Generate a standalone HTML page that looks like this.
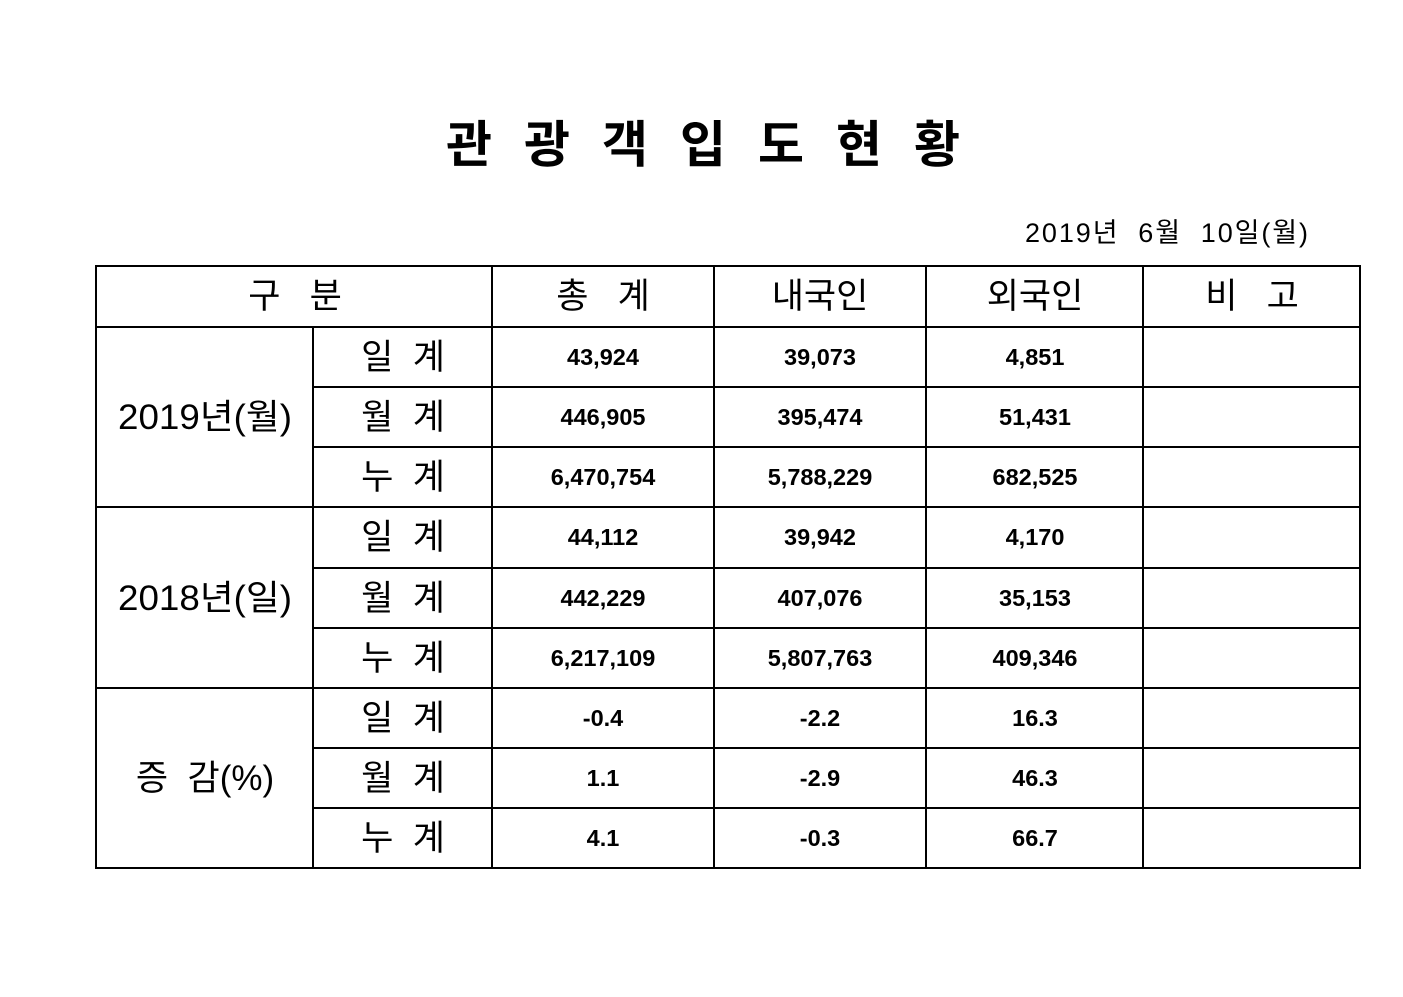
<!DOCTYPE html>
<html><head><meta charset="utf-8"><style>
html,body{margin:0;padding:0;background:#fff;}
svg text{font-family:"Liberation Sans","Noto Sans CJK KR",sans-serif;fill:#000;}
</style></head><body>
<svg width="1403" height="992" xmlns="http://www.w3.org/2000/svg">
<text x="719" y="162" font-size="50" font-weight="bold" text-anchor="middle" letter-spacing="32">관광객입도현황</text>
<text x="1025" y="242" font-size="27" textLength="283" lengthAdjust="spacing" xml:space="preserve">2019년  6월  10일(월)</text>
<g stroke="#000" stroke-width="2" fill="none">
<rect x="96" y="266" width="1264" height="602"/>
<line x1="96" y1="327" x2="1360" y2="327"/>
<line x1="96" y1="507" x2="1360" y2="507"/>
<line x1="96" y1="688" x2="1360" y2="688"/>
<line x1="313" y1="387" x2="1360" y2="387"/>
<line x1="313" y1="447" x2="1360" y2="447"/>
<line x1="313" y1="568" x2="1360" y2="568"/>
<line x1="313" y1="628" x2="1360" y2="628"/>
<line x1="313" y1="748" x2="1360" y2="748"/>
<line x1="313" y1="808" x2="1360" y2="808"/>
<line x1="313" y1="327" x2="313" y2="868"/>
<line x1="492" y1="266" x2="492" y2="868"/>
<line x1="714" y1="266" x2="714" y2="868"/>
<line x1="926" y1="266" x2="926" y2="868"/>
<line x1="1143" y1="266" x2="1143" y2="868"/>
</g>
<g font-size="35" text-anchor="middle">
<text x="295" y="308" xml:space="preserve">구   분</text>
<text x="603" y="308" xml:space="preserve">총   계</text>
<text x="820" y="308">내국인</text>
<text x="1035" y="308">외국인</text>
<text x="1252" y="308" xml:space="preserve">비   고</text>
<text x="205" y="429" textLength="174" lengthAdjust="spacingAndGlyphs">2019년(월)</text>
<text x="205" y="610" textLength="174" lengthAdjust="spacingAndGlyphs">2018년(일)</text>
<text x="205" y="790" xml:space="preserve">증  감(%)</text>
<text x="403" y="369" xml:space="preserve">일  계</text>
<text x="403" y="429" xml:space="preserve">월  계</text>
<text x="403" y="489" xml:space="preserve">누  계</text>
<text x="403" y="549" xml:space="preserve">일  계</text>
<text x="403" y="610" xml:space="preserve">월  계</text>
<text x="403" y="670" xml:space="preserve">누  계</text>
<text x="403" y="730" xml:space="preserve">일  계</text>
<text x="403" y="790" xml:space="preserve">월  계</text>
<text x="403" y="850" xml:space="preserve">누  계</text>
</g>
<g font-size="23.5" font-weight="bold" text-anchor="middle">
<text x="603" y="365">43,924</text><text x="820" y="365">39,073</text><text x="1035" y="365">4,851</text>
<text x="603" y="425">446,905</text><text x="820" y="425">395,474</text><text x="1035" y="425">51,431</text>
<text x="603" y="485">6,470,754</text><text x="820" y="485">5,788,229</text><text x="1035" y="485">682,525</text>
<text x="603" y="545">44,112</text><text x="820" y="545">39,942</text><text x="1035" y="545">4,170</text>
<text x="603" y="606">442,229</text><text x="820" y="606">407,076</text><text x="1035" y="606">35,153</text>
<text x="603" y="666">6,217,109</text><text x="820" y="666">5,807,763</text><text x="1035" y="666">409,346</text>
<text x="603" y="726">-0.4</text><text x="820" y="726">-2.2</text><text x="1035" y="726">16.3</text>
<text x="603" y="786">1.1</text><text x="820" y="786">-2.9</text><text x="1035" y="786">46.3</text>
<text x="603" y="846">4.1</text><text x="820" y="846">-0.3</text><text x="1035" y="846">66.7</text>
</g>
</svg>
</body></html>
